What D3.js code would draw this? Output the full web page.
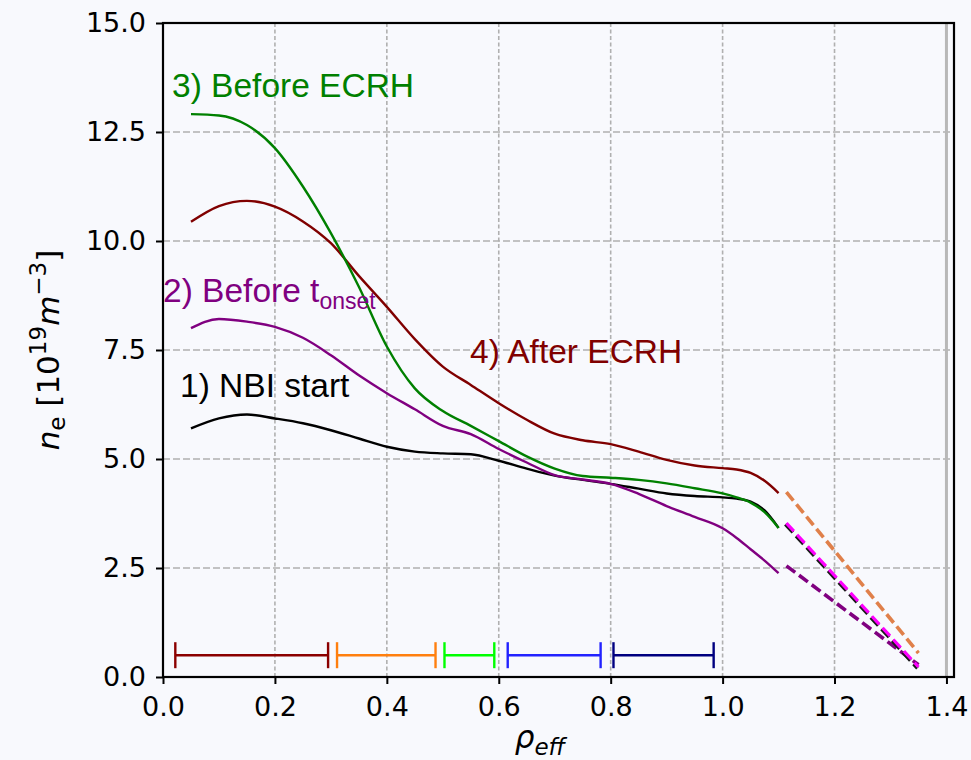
<!DOCTYPE html>
<html>
<head>
<meta charset="utf-8">
<script src="https://cdn.jsdelivr.net/npm/d3@7"></script>
<style>
  html, body { margin: 0; padding: 0; background: #f8f9fd; }
  svg { display: block; }
</style>
</head>
<body>
<svg id="chart"></svg>
<script>
// ====== données ====== //
const rho = [0.05, 0.10, 0.15, 0.20, 0.25, 0.30, 0.35, 0.40, 0.45, 0.50, 0.55, 0.60,
             0.65, 0.70, 0.75, 0.80, 0.85, 0.90, 0.95, 1.00, 1.025, 1.05, 1.075, 1.10];

const neNBI     = [5.70, 5.93, 6.02, 5.93, 5.82, 5.66, 5.47, 5.28, 5.17, 5.13, 5.11, 4.96,
                   4.78, 4.62, 4.52, 4.43, 4.32, 4.21, 4.15, 4.12, 4.09, 4.02, 3.82, 3.42];
const neOnset   = [8.00, 8.21, 8.15, 8.03, 7.78, 7.38, 6.92, 6.51, 6.14, 5.76, 5.57, 5.23,
                   4.92, 4.63, 4.53, 4.43, 4.20, 3.92, 3.67, 3.41, 3.19, 2.93, 2.67, 2.38];
const neBefore  = [12.91, 12.88, 12.66, 12.13, 11.25, 10.18, 8.95, 7.58, 6.62, 6.10, 5.76, 5.41,
                   5.06, 4.78, 4.61, 4.57, 4.52, 4.44, 4.33, 4.21, 4.12, 4.00, 3.78, 3.42];
const neAfter   = [10.44, 10.80, 10.92, 10.79, 10.45, 9.95, 9.20, 8.49, 7.75, 7.12, 6.70, 6.28,
                   5.90, 5.58, 5.43, 5.34, 5.17, 4.98, 4.85, 4.79, 4.76, 4.68, 4.50, 4.22];

// extrapolations en pointillés (bord)
const rhoEdge     = [1.114, 1.35];
const edgeAfter   = [4.24, 0.55];
const edgeGreen   = [3.53, 0.23];
const edgeOnset   = [2.55, 0.28];

// barres horizontales (intervalles en rho)
const barStart  = [0.022, 0.311, 0.503, 0.616, 0.805];
const barEnd    = [0.295, 0.487, 0.592, 0.782, 0.984];
const barLevel  = 0.5;
const barColors = ["#8b0000", "#ff7f0e", "#00ff00", "#2222ff", "#000080"];

const xTicks = [0.0, 0.2, 0.4, 0.6, 0.8, 1.0, 1.2, 1.4];
const xTickLabels = ["0.0", "0.2", "0.4", "0.6", "0.8", "1.0", "1.2", "1.4"];
const yTicks = [0, 2.5, 5, 7.5, 10, 12.5, 15];
const yTickLabels = ["0.0", "2.5", "5.0", "7.5", "10.0", "12.5", "15.0"];

// ====== dimensions ====== //
const width = 971, height = 760;
const margin = { top: 23, right: 17, bottom: 83, left: 163 };

const svg = d3.select("#chart").attr("width", width).attr("height", height);

const x = d3.scaleLinear().domain([0, 1.4135]).range([margin.left, width - margin.right]);
const y = d3.scaleLinear().domain([0, 15]).range([height - margin.bottom, margin.top]);

// grille
const grid = svg.append("g");
grid.selectAll("line.v").data(xTicks.filter(d => d > 0 && d < 1.4)).enter().append("line")
  .attr("x1", d => x(d)).attr("x2", d => x(d))
  .attr("y1", y(0)).attr("y2", y(15))
  .attr("stroke", "#b0b0b0").attr("stroke-width", 1.6).attr("stroke-dasharray", "4,2.5");
grid.selectAll("line.h").data(yTicks.filter(d => d > 0 && d < 15)).enter().append("line")
  .attr("x1", x(0)).attr("x2", x(1.4135))
  .attr("y1", d => y(d)).attr("y2", d => y(d))
  .attr("stroke", "#b0b0b0").attr("stroke-width", 1.3).attr("stroke-dasharray", "7,3");
// ligne à 1.4 (pleine)
grid.append("line")
  .attr("x1", x(1.4)).attr("x2", x(1.4)).attr("y1", y(0)).attr("y2", y(15))
  .attr("stroke", "#b8b8b8").attr("stroke-width", 3);

// barres
const bars = svg.append("g");
barStart.forEach((s, i) => {
  const c = barColors[i];
  bars.append("line").attr("x1", x(s)).attr("x2", x(barEnd[i]))
    .attr("y1", y(barLevel)).attr("y2", y(barLevel))
    .attr("stroke", c).attr("stroke-width", 2.4);
  [s, barEnd[i]].forEach(v => {
    bars.append("line").attr("x1", x(v)).attr("x2", x(v))
      .attr("y1", y(barLevel) - 13).attr("y2", y(barLevel) + 13)
      .attr("stroke", c).attr("stroke-width", 2.4);
  });
});

// profils
const line = d3.line().x(d => x(d[0])).y(d => y(d[1])).curve(d3.curveMonotoneX);
const series = [
  { v: neNBI, c: "#000000" },
  { v: neOnset, c: "#800080" },
  { v: neAfter, c: "#800000" },
  { v: neBefore, c: "#008000" }
];
series.forEach(s => {
  svg.append("path").datum(rho.map((r, i) => [r, s.v[i]]))
    .attr("d", line).attr("fill", "none")
    .attr("stroke", s.c).attr("stroke-width", 2.4);
});

// extrapolations
const dash = "11,4.8";
const edgeLine = d3.line().x(d => x(d[0])).y(d => y(d[1]));
function edge(vals, color, w, shift) {
  svg.append("path").datum(rhoEdge.map((r, i) => [r, vals[i]]))
    .attr("d", edgeLine).attr("fill", "none")
    .attr("stroke", color).attr("stroke-width", w)
    .attr("stroke-dasharray", dash)
    .attr("transform", shift ? `translate(${shift[0]},${shift[1]})` : null);
}
edge(edgeAfter, "#e0804a", 3.6);
edge(edgeOnset, "#800080", 3.6);
edge(edgeGreen, "#1a1a1a", 3.6, [-1, 1.2]);
edge(edgeGreen, "#ff00ff", 3.2);

// cadre
svg.append("rect")
  .attr("x", x(0)).attr("y", y(15))
  .attr("width", x(1.4135) - x(0)).attr("height", y(0) - y(15))
  .attr("fill", "none").attr("stroke", "#000").attr("stroke-width", 2.2);

// axes
const xAxis = d3.axisBottom(x).tickValues(xTicks)
  .tickFormat((d, i) => xTickLabels[i]).tickSize(7).tickPadding(13);
const yAxis = d3.axisLeft(y).tickValues(yTicks)
  .tickFormat((d, i) => yTickLabels[i]).tickSize(7).tickPadding(10);

const gx = svg.append("g").attr("transform", `translate(0,${y(0)})`).call(xAxis);
const gy = svg.append("g").attr("transform", `translate(${x(0)},0)`).call(yAxis);
[gx, gy].forEach(g => {
  g.select(".domain").remove();
  g.selectAll(".tick line").attr("stroke", "#000").attr("stroke-width", 2);
  g.selectAll(".tick text").attr("fill", "#000")
    .style("font-family", "DejaVu Sans").style("font-size", "27px");
});

// titres des axes
svg.append("text")
  .attr("x", 540).attr("y", 748)
  .attr("text-anchor", "middle")
  .style("font-family", "DejaVu Sans").style("font-size", "31px")
  .call(t => {
    t.append("tspan").style("font-style", "italic").text("ρ");
    t.append("tspan").attr("dy", 7).style("font-size", "23px").style("font-style", "italic").text("eff");
  });

svg.append("text")
  .attr("transform", "translate(59,350) rotate(-90)")
  .attr("text-anchor", "middle")
  .style("font-family", "DejaVu Sans").style("font-size", "31px")
  .call(t => {
    t.append("tspan").style("font-style", "italic").text("n");
    t.append("tspan").attr("dy", 6).style("font-size", "23px").text("e");
    t.append("tspan").attr("dy", -6).text(" [10");
    t.append("tspan").attr("dy", -13).style("font-size", "23px").text("19");
    t.append("tspan").attr("dy", 13).style("font-style", "italic").text("m");
    t.append("tspan").attr("dy", -13).style("font-size", "23px").text("−3");
    t.append("tspan").attr("dy", 13).text("]");
  });

// annotations
const annot = svg.append("g").style("font-family", "Liberation Sans").style("font-size", "33.5px");
annot.append("text").attr("x", 172).attr("y", 97).attr("fill", "#008000").text("3) Before ECRH");
annot.append("text").attr("x", 163).attr("y", 302).attr("fill", "#800080")
  .call(t => {
    t.append("tspan").text("2) Before t");
    t.append("tspan").attr("dy", 7).style("font-size", "23px").text("onset");
  });
annot.append("text").attr("x", 180).attr("y", 397).attr("fill", "#000").text("1) NBI start");
annot.append("text").attr("x", 470).attr("y", 363).attr("fill", "#800000").text("4) After ECRH");
</script>
</body>
</html>
